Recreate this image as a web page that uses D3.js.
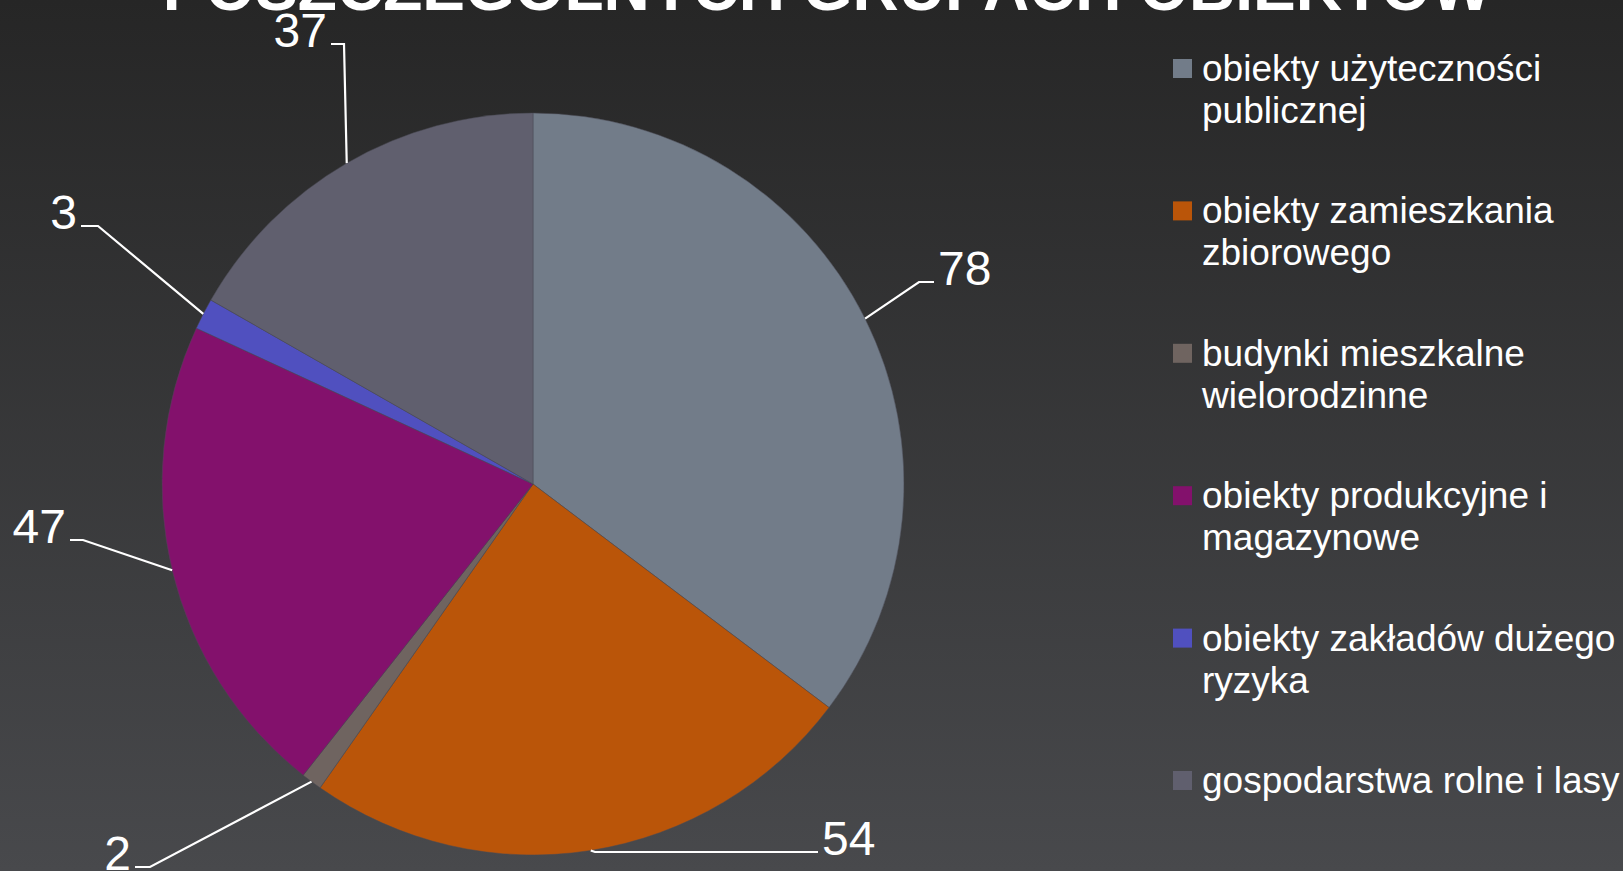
<!DOCTYPE html>
<html>
<head>
	<meta charset="UTF-8">
	<title>Kontrole w grupach obiektów</title>
	<script src="https://d3js.org/d3.v7.min.js"></script>
	<style type="text/css">
	body {
		margin: 0;
		overflow: hidden;
		background: #262626;
	}
	text {
		font-family: "Liberation Sans", Arial, sans-serif;
		fill: #ffffff;
	}
	</style>
</head>
<body>
<div id="chart"></div>

<script>
// data
var categories = [
	"obiekty użyteczności\npublicznej",
	"obiekty zamieszkania\nzbiorowego",
	"budynki mieszkalne\nwielorodzinne",
	"obiekty produkcyjne i\nmagazynowe",
	"obiekty zakładów dużego\nryzyka",
	"gospodarstwa rolne i lasy"
];
var values = [78, 54, 2, 47, 3, 37];
var colors = ["#727c89", "#ba5509", "#6f6460", "#83116c", "#5050bf", "#605f6e"];
var title = "POSZCZEGÓLNYCH GRUPACH OBIEKTÓW";

// where excel put the data labels (end of leader line near the text, elbow x)
var labelLayout = [
	{x: 934, y: 282, elbowX: 919, side: "right"},
	{x: 818, y: 852, elbowX: 595, side: "right"},
	{x: 135, y: 867, elbowX: 150, side: "left"},
	{x: 70, y: 540, elbowX: 83, side: "left"},
	{x: 81, y: 226, elbowX: 98, side: "left"},
	{x: 331, y: 44, elbowX: 344, side: "left"}
];

var width = 1623;
var height = 871;
var cx = 533, cy = 484, radius = 371;

var svg = d3.select("#chart").append("svg")
	.attr("width", width)
	.attr("height", height);

// background gradient like the slide
var grad = svg.append("defs").append("linearGradient")
	.attr("id", "bg")
	.attr("x1", 0).attr("y1", 0)
	.attr("x2", 0).attr("y2", 1);
grad.append("stop").attr("offset", "0%").attr("stop-color", "#262626");
grad.append("stop").attr("offset", "100%").attr("stop-color", "#48494c");

svg.append("rect")
	.attr("width", width)
	.attr("height", height)
	.attr("fill", "url(#bg)");

var data = values.map(function(v, i){
	return {name: categories[i], value: v, color: colors[i], layout: labelLayout[i]};
});

var pie = d3.pie()
	.sort(null)
	.value(function(d){ return d.value; });

var arc = d3.arc()
	.innerRadius(0)
	.outerRadius(radius);

var g = svg.append("g")
	.attr("transform", "translate(" + cx + "," + cy + ")");

var arcs = pie(data);

g.selectAll("path")
	.data(arcs)
	.enter()
	.append("path")
		.attr("d", arc)
		.attr("fill", function(d){ return d.data.color; })
		.attr("stroke", "#4a4a55")
		.attr("stroke-width", 0.5);

// leader lines - start on the edge at mid angle
var leaders = svg.append("g");
arcs.forEach(function(d){
	var mid = (d.startAngle + d.endAngle) / 2;
	var sx = cx + radius * Math.sin(mid);
	var sy = cy - radius * Math.cos(mid);
	var L = d.data.layout;
	leaders.append("polyline")
		.attr("points", [[sx, sy], [L.elbowX, L.y], [L.x, L.y]].map(function(p){ return p.join(","); }).join(" "))
		.attr("fill", "none")
		.attr("stroke", "#ffffff")
		.attr("stroke-width", 2.2);
	leaders.append("text")
		.attr("x", L.side == "right" ? L.x + 4 : L.x - 4)
		.attr("y", L.y + 3)
		.attr("text-anchor", L.side == "right" ? "start" : "end")
		.attr("font-size", "48px")
		.text(d.data.value);
});

// title - only last line shows at the top
svg.append("text")
	.attr("x", 827)
	.attr("y", 10)
	.attr("text-anchor", "middle")
	.attr("font-size", "64px")
	.attr("font-weight", "bold")
	.text(title);

// legend
var legend = svg.append("g")
	.attr("transform", "translate(1173,81)");

var item = legend.selectAll("g")
	.data(data)
	.enter()
	.append("g")
		.attr("transform", function(d, i){ return "translate(0," + (i * 142.4) + ")"; });

item.append("rect")
	.attr("x", 0)
	.attr("y", -22)
	.attr("width", 19)
	.attr("height", 19)
	.attr("fill", function(d){ return d.color; });

item.append("text")
	.attr("font-size", "37px")
	.each(function(d){
		var lines = d.name.split("\n");
		var t = d3.select(this);
		lines.forEach(function(line, k){
			t.append("tspan")
				.attr("x", 29)
				.attr("y", k * 42)
				.text(line);
		});
	});
</script>
</body>
</html>
